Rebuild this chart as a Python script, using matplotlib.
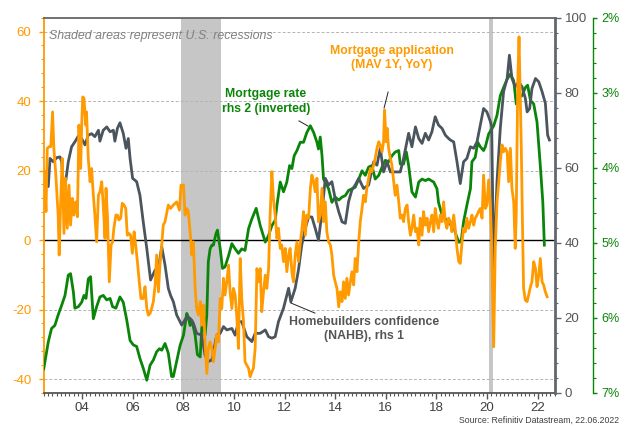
import matplotlib
matplotlib.use("Agg")
import matplotlib.pyplot as plt
from matplotlib.ticker import MultipleLocator, FixedLocator, FuncFormatter

plt.rcParams['font.family'] = ['Liberation Sans', 'DejaVu Sans']
plt.rcParams['axes.unicode_minus'] = False

ORANGE = '#FF9A00'
GRAY = '#4B555E'
GREEN = '#0A850A'

# mortgage applications, MAV 1Y YoY (lhs)
app_t = [2002.50, 2002.54, 2002.58, 2002.63, 2002.71, 2002.77, 2002.84, 2002.89, 2002.96, 2003.00,
         2003.06, 2003.10, 2003.16, 2003.22, 2003.29, 2003.35, 2003.42, 2003.49, 2003.55, 2003.62,
         2003.68, 2003.75, 2003.82, 2003.88, 2003.95, 2003.99, 2004.03, 2004.08, 2004.15, 2004.18,
         2004.25, 2004.32, 2004.38, 2004.45, 2004.51, 2004.58, 2004.65, 2004.71, 2004.78, 2004.84,
         2004.91, 2004.95, 2005.01, 2005.08, 2005.15, 2005.21, 2005.26, 2005.34, 2005.40, 2005.46,
         2005.53, 2005.59, 2005.66, 2005.73, 2005.79, 2005.86, 2005.92, 2005.99, 2006.06, 2006.12,
         2006.19, 2006.25, 2006.33, 2006.42, 2006.49, 2006.56, 2006.62, 2006.69, 2006.75, 2006.82,
         2006.89, 2006.95, 2007.02, 2007.08, 2007.15, 2007.21, 2007.28, 2007.41, 2007.50, 2007.61,
         2007.74, 2007.85, 2007.91, 2008.01, 2008.07, 2008.14, 2008.20, 2008.27, 2008.34, 2008.40,
         2008.47, 2008.53, 2008.60, 2008.67, 2008.73, 2008.80, 2008.86, 2008.93, 2008.99, 2009.06,
         2009.13, 2009.19, 2009.26, 2009.32, 2009.39, 2009.46, 2009.52, 2009.59, 2009.65, 2009.72,
         2009.79, 2009.85, 2009.92, 2009.98, 2010.05, 2010.11, 2010.18, 2010.25, 2010.31, 2010.38,
         2010.44, 2010.51, 2010.58, 2010.64, 2010.71, 2010.77, 2010.84, 2010.91, 2010.97, 2011.04,
         2011.10, 2011.17, 2011.24, 2011.30, 2011.37, 2011.43, 2011.50, 2011.56, 2011.63, 2011.70,
         2011.76, 2011.83, 2011.89, 2011.96, 2012.03, 2012.09, 2012.16, 2012.22, 2012.29, 2012.35,
         2012.42, 2012.49, 2012.55, 2012.62, 2012.69, 2012.75, 2012.82, 2012.88, 2012.95, 2013.02,
         2013.08, 2013.15, 2013.21, 2013.28, 2013.34, 2013.41, 2013.48, 2013.54, 2013.61, 2013.67,
         2013.74, 2013.81, 2013.87, 2013.94, 2014.00, 2014.07, 2014.14, 2014.20, 2014.27, 2014.33,
         2014.40, 2014.46, 2014.53, 2014.60, 2014.66, 2014.73, 2014.79, 2014.86, 2014.93, 2014.99,
         2015.06, 2015.12, 2015.19, 2015.25, 2015.32, 2015.39, 2015.45, 2015.52, 2015.58, 2015.65,
         2015.72, 2015.78, 2015.85, 2015.91, 2015.95, 2016.01, 2016.05, 2016.11, 2016.18, 2016.24,
         2016.31, 2016.37, 2016.44, 2016.51, 2016.57, 2016.64, 2016.70, 2016.77, 2016.84, 2016.90,
         2016.97, 2017.03, 2017.10, 2017.17, 2017.23, 2017.30, 2017.36, 2017.43, 2017.49, 2017.56,
         2017.63, 2017.69, 2017.76, 2017.82, 2017.89, 2017.95, 2018.02, 2018.08, 2018.15, 2018.22,
         2018.28, 2018.35, 2018.41, 2018.48, 2018.55, 2018.61, 2018.68, 2018.74, 2018.81, 2018.88,
         2018.94, 2019.01, 2019.07, 2019.14, 2019.20, 2019.27, 2019.34, 2019.40, 2019.47, 2019.53,
         2019.60, 2019.66, 2019.73, 2019.80, 2019.86, 2019.93, 2019.99, 2020.06, 2020.13, 2020.17,
         2020.22, 2020.26, 2020.32, 2020.39, 2020.46, 2020.52, 2020.59, 2020.65, 2020.72, 2020.79,
         2020.85, 2020.92, 2020.98, 2021.05, 2021.11, 2021.15, 2021.21, 2021.26, 2021.31, 2021.35,
         2021.39, 2021.44, 2021.51, 2021.58, 2021.64, 2021.71, 2021.77, 2021.84, 2021.91, 2021.97,
         2022.04, 2022.10, 2022.17, 2022.23, 2022.30, 2022.37]
app_v = [19.7, 14.9, 8.2, 26.4, 26.9, 26.9, 36.9, 26.4, 19.7, 14.9,
         7.2, -4.3, 11.0, 23.5, 1.9, 17.8, 3.4, 15.8, 4.3, 12.0,
         7.2, 11.0, 6.7, 33.1, 20.6, 33.1, 41.2, 40.8, 33.1, 36.9,
         23.5, 16.8, 20.6, 12.9, 7.2, -0.5, 12.9, 13.9, 16.8, 10.1,
         0.5, 14.9, 6.3, -12.0, -1.4, -0.5, 3.4, 7.2, 7.2, 5.8,
         6.3, 10.6, 10.1, 9.1, 1.4, 1.9, 1.4, -3.8, 2.4, -1.4,
         -6.2, -11.0, -16.8, -16.8, -13.4, -19.7, -21.6, -21.1, -19.7, -17.7,
         -12.9, -4.3, -14.9, -7.2, -1.4, 4.3, 5.3, 10.1, 9.1, 10.1,
         11.0, 8.6, 15.8, 15.8, 7.2, 9.1, 8.2, 2.4, -4.3, -0.5,
         -13.9, -19.7, -21.6, -17.7, -24.5, -18.7, -29.3, -38.4, -31.2, -29.3,
         -31.2, -35.0, -31.2, -27.3, -29.3, -16.8, -19.7, -11.0, -15.8, -12.0,
         -7.2, -14.9, -19.7, -13.9, -15.8, -21.6, -31.2, -5.3, -16.8, -23.5,
         -35.0, -36.0, -36.9, -39.3, -37.9, -36.9, -31.2, -8.2, -12.0, -8.2,
         -20.6, -14.9, -10.1, -13.9, -8.2, 7.2, 19.7, 12.0, 7.2, 0.5,
         3.4, -2.4, -1.4, -6.2, -2.4, -9.1, -4.3, -2.4, -9.1, -12.0,
         -4.3, -0.5, -6.2, -1.0, 3.4, 8.2, 1.4, 7.2, 6.3, 14.9,
         18.7, 16.8, 13.9, 17.8, 5.3, 7.2, 14.9, 5.3, 11.0, 2.4,
         -0.5, -1.4, -4.3, -10.1, -12.0, -13.9, -19.2, -14.9, -17.7, -12.0,
         -16.8, -11.0, -15.8, -12.0, -9.1, -12.9, -5.3, -9.1, -0.5, 5.3,
         9.1, 12.9, 11.0, 14.9, 17.8, 20.6, 19.7, 21.6, 23.5, 26.4,
         28.3, 27.3, 25.4, 28.3, 37.4, 28.3, 32.2, 26.4, 23.5, 21.6,
         16.8, 12.9, 15.8, 11.0, 6.3, 7.2, 5.3, 9.1, 10.1, 5.3,
         1.4, 3.4, 7.2, 2.4, 3.4, -1.4, 6.3, 1.4, 8.2, 4.3,
         6.3, 2.4, 5.3, 7.2, 2.4, 9.1, 5.3, 3.4, 7.2, 5.3,
         11.0, 5.3, 3.4, 6.3, 5.3, 2.4, 7.2, 3.4, -2.4, -6.2,
         -6.7, -0.5, 3.4, 2.4, 6.3, 3.4, 5.3, 7.2, 4.3, 6.3,
         7.2, 8.2, 9.1, 6.3, 18.7, 9.1, 10.1, 17.3, 9.1, 1.4,
         -16.8, -30.7, -2.4, 11.0, 16.8, 22.5, 27.4, 25.4, 26.4, 25.4,
         16.8, 26.4, 14.9, 11.0, -2.4, 7.2, 45.6, 58.5, 40.8, 26.4,
         7.2, -13.9, -17.3, -17.7, -15.8, -13.4, -12.0, -6.2, -8.2, -13.4,
         -10.1, -5.3, -12.0, -12.9, -14.9, -16.3]

# NAHB homebuilders confidence (rhs 1)
nahb_t = [2002.58, 2002.67, 2002.74, 2002.87, 2003.00, 2003.13, 2003.20, 2003.26, 2003.33, 2003.46,
          2003.59, 2003.72, 2003.86, 2003.99, 2004.12, 2004.25, 2004.38, 2004.51, 2004.65, 2004.71,
          2004.84, 2004.98, 2005.11, 2005.24, 2005.30, 2005.40, 2005.50, 2005.63, 2005.74, 2005.83,
          2005.90, 2006.00, 2006.16, 2006.29, 2006.42, 2006.56, 2006.71, 2006.89, 2007.02, 2007.15,
          2007.28, 2007.41, 2007.50, 2007.61, 2007.74, 2007.94, 2008.14, 2008.27, 2008.40, 2008.53,
          2008.73, 2008.86, 2008.99, 2009.13, 2009.32, 2009.46, 2009.59, 2009.72, 2009.92, 2010.05,
          2010.18, 2010.31, 2010.51, 2010.71, 2010.84, 2011.04, 2011.24, 2011.37, 2011.50, 2011.63,
          2011.76, 2011.96, 2012.16, 2012.25, 2012.42, 2012.55, 2012.68, 2012.82, 2012.95, 2013.08,
          2013.21, 2013.34, 2013.48, 2013.61, 2013.74, 2013.87, 2014.00, 2014.14, 2014.27, 2014.40,
          2014.53, 2014.66, 2014.79, 2014.93, 2015.12, 2015.32, 2015.52, 2015.65, 2015.78, 2015.91,
          2016.05, 2016.18, 2016.38, 2016.57, 2016.70, 2016.90, 2017.03, 2017.17, 2017.30, 2017.43,
          2017.56, 2017.69, 2017.82, 2017.95, 2018.08, 2018.22, 2018.35, 2018.48, 2018.55, 2018.68,
          2018.81, 2018.94, 2019.07, 2019.20, 2019.34, 2019.47, 2019.60, 2019.73, 2019.86, 2019.99,
          2020.13, 2020.18, 2020.26, 2020.39, 2020.52, 2020.65, 2020.79, 2020.88, 2020.98, 2021.11,
          2021.25, 2021.38, 2021.51, 2021.58, 2021.68, 2021.77, 2021.91, 2022.04, 2022.17, 2022.30,
          2022.39, 2022.46]
nahb_v = [58.9, 55.0, 62.5, 61.6, 62.7, 62.9, 61.6, 55.8, 55.0, 61.6,
          65.6, 66.9, 68.5, 67.8, 66.1, 68.7, 69.1, 68.3, 70.0, 67.1,
          70.0, 70.9, 69.6, 70.0, 67.1, 70.5, 72.0, 69.2, 65.2, 67.8,
          62.5, 57.2, 56.3, 52.7, 45.6, 38.5, 30.1, 32.8, 33.2, 39.0,
          34.1, 27.9, 26.0, 24.3, 20.8, 18.1, 20.3, 19.9, 18.6, 15.9,
          15.4, 10.1, 8.4, 8.8, 15.4, 15.9, 17.7, 16.8, 17.2, 15.4,
          19.0, 19.0, 15.0, 13.7, 15.9, 15.9, 16.8, 15.0, 14.6, 15.0,
          19.0, 22.6, 27.9, 24.3, 27.9, 32.8, 39.4, 43.9, 46.9, 46.9,
          43.9, 40.7, 48.3, 57.2, 55.4, 56.3, 51.8, 48.3, 45.6, 45.2,
          51.0, 54.1, 55.4, 57.2, 54.5, 55.4, 61.6, 60.7, 65.2, 58.9,
          61.6, 58.9, 58.9, 58.9, 62.5, 69.2, 65.6, 70.9, 67.8, 66.5,
          69.2, 67.4, 69.6, 73.6, 71.4, 70.5, 68.7, 67.8, 67.4, 66.9,
          61.6, 55.8, 61.6, 62.5, 65.6, 65.2, 66.9, 71.4, 75.8, 74.9,
          72.3, 71.0, 32.3, 56.3, 70.5, 80.3, 83.8, 90.0, 83.8, 81.6,
          82.9, 81.6, 78.5, 74.9, 75.8, 81.1, 83.8, 82.9, 80.3, 77.2,
          68.7, 67.4]

# mortgage rate, % (rhs 2, inverted)
rate_t = [2002.49, 2002.67, 2002.80, 2002.93, 2003.06, 2003.20, 2003.33, 2003.46, 2003.55, 2003.66,
          2003.72, 2003.86, 2003.99, 2004.08, 2004.16, 2004.25, 2004.34, 2004.45, 2004.58, 2004.71,
          2004.84, 2004.98, 2005.11, 2005.21, 2005.34, 2005.50, 2005.63, 2005.77, 2005.90, 2006.03,
          2006.16, 2006.29, 2006.42, 2006.56, 2006.69, 2006.82, 2006.95, 2007.06, 2007.15, 2007.28,
          2007.41, 2007.54, 2007.61, 2007.74, 2007.88, 2008.01, 2008.14, 2008.20, 2008.27, 2008.34,
          2008.47, 2008.56, 2008.67, 2008.73, 2008.80, 2008.86, 2008.93, 2008.99, 2009.06, 2009.13,
          2009.19, 2009.29, 2009.35, 2009.46, 2009.55, 2009.65, 2009.79, 2009.92, 2010.05, 2010.18,
          2010.31, 2010.44, 2010.58, 2010.71, 2010.88, 2011.04, 2011.24, 2011.37, 2011.50, 2011.63,
          2011.70, 2011.83, 2011.96, 2012.09, 2012.20, 2012.29, 2012.38, 2012.49, 2012.62, 2012.75,
          2012.88, 2013.02, 2013.15, 2013.28, 2013.34, 2013.41, 2013.48, 2013.54, 2013.61, 2013.74,
          2013.87, 2014.00, 2014.14, 2014.27, 2014.40, 2014.53, 2014.66, 2014.79, 2014.93, 2015.06,
          2015.19, 2015.32, 2015.45, 2015.58, 2015.72, 2015.85, 2015.98, 2016.11, 2016.24, 2016.37,
          2016.51, 2016.57, 2016.70, 2016.81, 2016.90, 2017.03, 2017.17, 2017.30, 2017.43, 2017.56,
          2017.69, 2017.89, 2018.02, 2018.08, 2018.22, 2018.35, 2018.48, 2018.61, 2018.68, 2018.78,
          2018.88, 2018.97, 2019.07, 2019.20, 2019.34, 2019.40, 2019.53, 2019.63, 2019.73, 2019.86,
          2019.93, 2020.06, 2020.26, 2020.39, 2020.52, 2020.65, 2020.79, 2020.92, 2021.05, 2021.15,
          2021.25, 2021.38, 2021.51, 2021.60, 2021.71, 2021.84, 2021.97, 2022.10, 2022.20, 2022.26]
rate_v = [6.68, 6.32, 6.14, 6.10, 5.96, 5.83, 5.70, 5.43, 5.41, 5.65,
          5.87, 5.85, 5.79, 5.70, 5.74, 5.48, 5.45, 6.01, 5.85, 5.72,
          5.70, 5.76, 5.74, 5.85, 5.87, 5.72, 5.79, 6.03, 6.30, 6.36,
          6.38, 6.54, 6.67, 6.83, 6.63, 6.56, 6.45, 6.41, 6.43, 6.34,
          6.47, 6.78, 6.78, 6.58, 6.36, 6.23, 5.94, 5.99, 6.10, 6.03,
          6.23, 6.49, 6.52, 6.14, 5.96, 6.23, 5.96, 5.25, 5.08, 5.03,
          5.03, 4.88, 4.83, 5.08, 5.34, 5.32, 5.17, 5.01, 5.08, 5.14,
          5.08, 5.10, 4.81, 4.68, 4.54, 4.77, 4.99, 4.90, 4.77, 4.70,
          4.50, 4.19, 4.32, 4.19, 3.97, 4.01, 3.84, 3.77, 3.66, 3.66,
          3.53, 3.44, 3.53, 3.66, 3.75, 3.59, 3.84, 4.15, 4.19, 4.28,
          4.46, 4.39, 4.43, 4.39, 4.37, 4.30, 4.28, 4.26, 4.15, 4.04,
          4.10, 3.99, 3.97, 4.15, 4.10, 3.99, 3.90, 3.92, 3.84, 3.79,
          3.77, 3.95, 3.95, 3.79, 3.97, 4.32, 4.39, 4.19, 4.15, 4.17,
          4.15, 4.19, 4.28, 4.46, 4.63, 4.68, 4.74, 4.77, 4.79, 4.90,
          4.99, 4.99, 4.72, 4.50, 4.28, 3.92, 3.86, 3.66, 3.72, 3.77,
          3.72, 3.55, 3.44, 3.30, 3.04, 2.93, 2.82, 2.75, 2.84, 3.15,
          3.06, 3.04, 2.93, 2.90, 3.10, 3.15, 3.39, 3.97, 4.46, 5.03]

recessions = [(2007.92, 2009.50), (2020.08, 2020.25)]
year_ticks = list(range(2004, 2023, 2))
year_labels = ['%02d' % (y % 100) for y in year_ticks]

fig = plt.figure(figsize=(6.21, 4.25), dpi=100)
ax = fig.add_axes([0.0704, 0.0753, 0.8233, 0.8831])
ax.set_xlim(2002.49, 2022.68)
ax.set_ylim(-44, 64)

for a, b in recessions:
    ax.axvspan(a, b, color='#c6c6c6', lw=0, zorder=0)
for v in [-40, -20, 20, 40, 60]:
    ax.axhline(v, color='#b4b4b4', lw=0.7, ls=(0, (3, 2)), zorder=1)
ax.axhline(0, color='black', lw=1.0, zorder=1)

# green axis
axg = ax.twinx()
axg.set_ylim(7, 2)
axg.plot(rate_t, rate_v, color=GREEN, lw=2.0, solid_joinstyle='round')
# gray axis
axn = ax.twinx()
axn.set_ylim(0, 100)
axn.plot(nahb_t, nahb_v, color=GRAY, lw=2.0, solid_joinstyle='round')
# orange line on top
axo = ax.twinx()
axo.set_ylim(-44, 64)
axo.plot(app_t, app_v, color=ORANGE, lw=2.0, solid_joinstyle='round')
axo.set_yticks([])
for s in axo.spines.values():
    s.set_visible(False)

for a in (axg, axn):
    for k in ('left', 'top', 'bottom'):
        a.spines[k].set_visible(False)

ax.spines['right'].set_visible(False)
ax.spines['left'].set_color(ORANGE)
ax.spines['left'].set_linewidth(1.3)
ax.spines['top'].set_color('#666666')
ax.spines['top'].set_linewidth(1.3)
ax.spines['bottom'].set_color('#555555')
ax.spines['bottom'].set_linewidth(1.3)

axn.spines['right'].set_color('#5f6770')
axn.spines['right'].set_linewidth(2.0)
axg.spines['right'].set_position(('outward', 27.4))
axg.spines['right'].set_color(GREEN)
axg.spines['right'].set_linewidth(1.0)

# ticks
ax.xaxis.set_major_locator(FixedLocator(year_ticks))
ax.set_xticklabels(year_labels)
ax.xaxis.set_minor_locator(MultipleLocator(1 / 6))
ax.tick_params(axis='x', which='major', length=4, width=1, color='#555555',
               labelsize=9.5, labelcolor='#404040', pad=2.5)
ax.tick_params(axis='x', which='minor', length=2, width=0.8, color='#555555')

ax.set_yticks([-40, -20, 0, 20, 40, 60])
ax.yaxis.set_minor_locator(MultipleLocator(4))
ax.tick_params(axis='y', which='major', length=3.5, width=1, color=ORANGE,
               labelsize=9.5, labelcolor=ORANGE, pad=5.5)
ax.tick_params(axis='y', which='minor', length=2, width=0.8, color=ORANGE)

axn.set_yticks([0, 20, 40, 60, 80, 100])
axn.yaxis.set_minor_locator(MultipleLocator(4))
axn.tick_params(axis='y', which='major', length=4, width=1, color='#5f6770',
                labelsize=9.5, labelcolor='#555555', pad=3)
axn.tick_params(axis='y', which='minor', length=2, width=0.8, color='#5f6770')

axg.set_yticks([2, 3, 4, 5, 6, 7])
axg.yaxis.set_major_formatter(FuncFormatter(lambda v, p: '%d%%' % v))
axg.yaxis.set_minor_locator(MultipleLocator(0.2))
axg.tick_params(axis='y', which='major', length=3, width=1, color=GREEN,
                labelsize=9, labelcolor=GREEN, pad=3)
axg.tick_params(axis='y', which='minor', length=2, width=0.8, color=GREEN)

# annotations
axo.text(2002.70, 58.6, 'Shaded areas represent U.S. recessions', fontsize=8.9,
         style='italic', color='#808080', ha='left', va='center')
axo.text(2011.27, 39.9, 'Mortgage rate\nrhs 2 (inverted)', fontsize=8.8,
         fontweight='bold', color=GREEN, ha='center', va='center', linespacing=1.25)
axo.text(2016.24, 52.3, 'Mortgage application\n(MAV 1Y, YoY)', fontsize=8.8,
         fontweight='bold', color=ORANGE, ha='center', va='center', linespacing=1.25)
axo.text(2015.14, -25.5, 'Homebuilders confidence\n(NAHB), rhs 1', fontsize=8.8,
         fontweight='bold', color='#555555', ha='center', va='center', linespacing=1.25)
axo.plot([2012.57, 2012.93], [34.3, 32.8], color='#222222', lw=0.7)
axo.plot([2015.93, 2016.09], [38.0, 42.6], color='#222222', lw=0.7)
axo.plot([2012.25, 2013.20], [-18.1, -21.0], color='#222222', lw=0.7)

fig.text(619 / 621, 1 - 420 / 425, 'Source: Refinitiv Datastream, 22.06.2022',
         fontsize=6.3, color='#404040', ha='right', va='center')

fig.savefig('out.png', dpi=100)
